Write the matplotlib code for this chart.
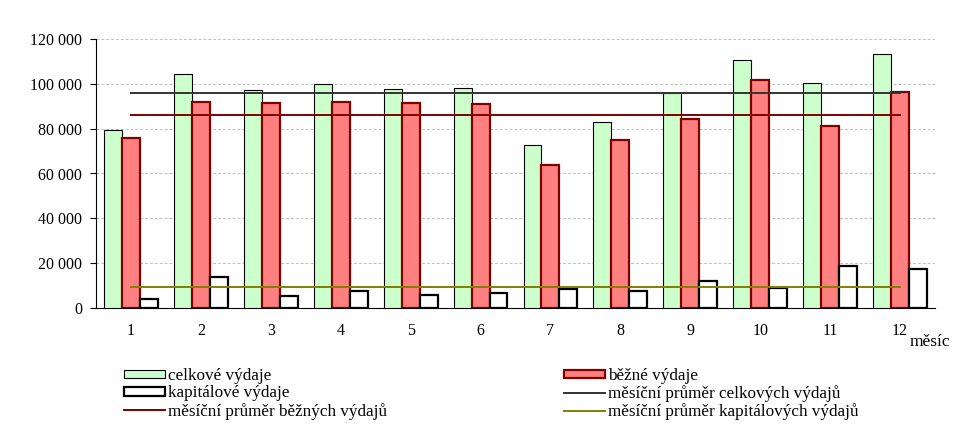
import matplotlib
matplotlib.use("Agg")
import matplotlib.pyplot as plt
from matplotlib.patches import Patch
from matplotlib.lines import Line2D
from matplotlib.ticker import FuncFormatter

months = [1, 2, 3, 4, 5, 6, 7, 8, 9, 10, 11, 12]
celkove = [79300, 104600, 97100, 99800, 97500, 98000, 72600, 82800, 95800, 110500, 100200, 113200]
bezne = [75700, 91700, 91600, 92000, 91600, 91100, 63900, 75100, 84200, 101900, 81300, 96300]
kapitalove = [3900, 13700, 5500, 7700, 5900, 6800, 8600, 7700, 12200, 8800, 18900, 17300]
prumer_celkove = 96000
prumer_bezne = 86100
prumer_kapitalove = 9400

plt.rcParams['font.family'] = ['Liberation Serif', 'DejaVu Serif']
plt.rcParams['font.size'] = 11.5

fig = plt.figure(figsize=(9.8, 4.4), dpi=100)
ax = fig.add_axes([96/980, 1-308/440, (935-96)/980, (308-39)/440])

bw = 0.257
xs = list(months)
ax.bar([x - bw for x in xs], celkove, width=bw, color='#CCFFCC', edgecolor='black', linewidth=0.8, zorder=3)
ax.bar(xs, bezne, width=bw, color='#FF8080', edgecolor='#800000', linewidth=1.6, zorder=3)
ax.bar([x + bw for x in xs], kapitalove, width=bw, color='white', edgecolor='black', linewidth=1.6, zorder=3)

ax.plot([xs[0], xs[-1]], [prumer_celkove]*2, color='#333333', lw=1.4, zorder=4)
ax.plot([xs[0], xs[-1]], [prumer_bezne]*2, color='#800000', lw=1.4, zorder=4)
ax.plot([xs[0], xs[-1]], [prumer_kapitalove]*2, color='#808000', lw=1.4, zorder=4)

ax.set_xlim(0.5, 12.5)
ax.set_ylim(0, 120000)
ax.set_yticks(range(0, 120001, 20000))
ax.yaxis.set_major_formatter(FuncFormatter(lambda v, p: f"{int(v):,}".replace(",", " ")))
ax.set_xticks(xs)
ax.set_xticklabels([str(m) for m in months])
ax.tick_params(axis='x', length=0, pad=11)
ax.tick_params(axis='y', length=4, width=0.8, direction='out', pad=6)
ax.grid(axis='y', color='#BFBFBF', linestyle=(0, (3, 2)), linewidth=0.7, zorder=0)
ax.set_axisbelow(True)
for s in ['top', 'right']:
    ax.spines[s].set_visible(False)
ax.spines['left'].set_linewidth(0.8)
ax.spines['bottom'].set_linewidth(0.8)

fig.text(930/980, 1-342/440, 'měsíc', ha='center', va='center', fontsize=12.5)

h_celk = Patch(facecolor='#CCFFCC', edgecolor='black', linewidth=0.8)
h_bez = Patch(facecolor='#FF8080', edgecolor='#800000', linewidth=1.6)
h_kap = Patch(facecolor='white', edgecolor='black', linewidth=1.6)
l_celk = Line2D([], [], color='#333333', lw=1.4)
l_bez = Line2D([], [], color='#800000', lw=1.4)
l_kap = Line2D([], [], color='#808000', lw=1.4)

common = dict(frameon=False, loc='upper left', borderpad=0, borderaxespad=0,
              handlelength=2.4, handleheight=0.4, handletextpad=0.15, labelspacing=0.08, fontsize=12.3)
leg1 = fig.legend([h_celk, h_kap, l_bez],
                  ['celkové výdaje', 'kapitálové výdaje', 'měsíční průměr běžných výdajů'],
                  bbox_to_anchor=(124/980, 1-368/440), **common)
leg2 = fig.legend([h_bez, l_celk, l_kap],
                  ['běžné výdaje', 'měsíční průměr celkových výdajů', 'měsíční průměr kapitálových výdajů'],
                  bbox_to_anchor=(564/980, 1-368/440), **common)

fig.savefig('out.png', dpi=100)
